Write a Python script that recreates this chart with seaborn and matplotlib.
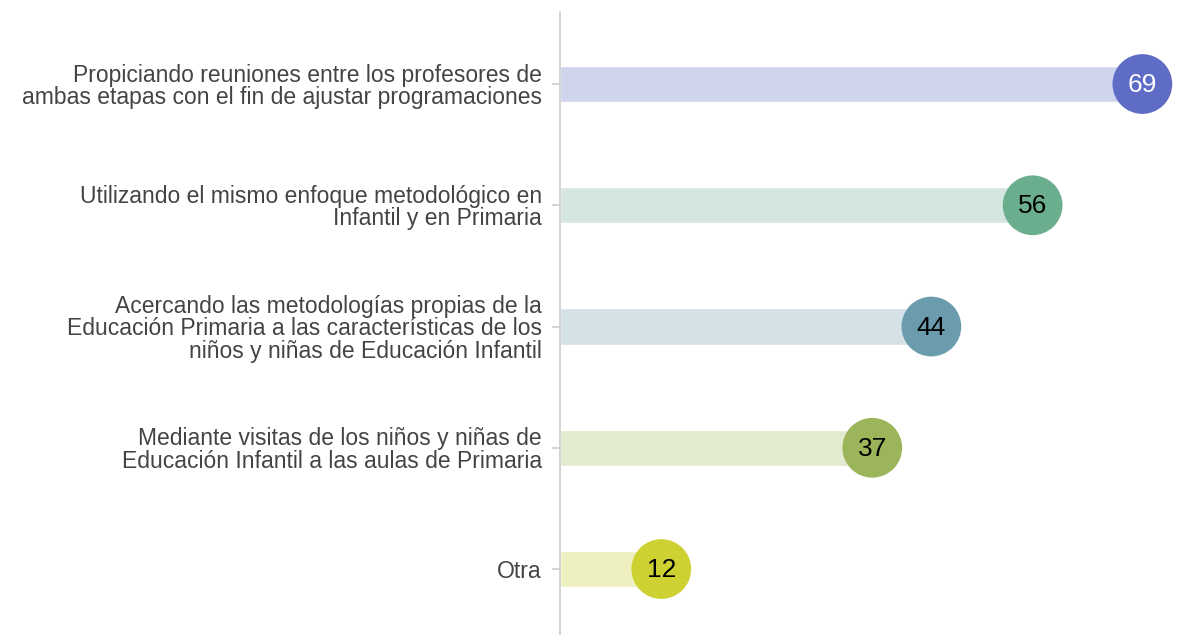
import matplotlib
matplotlib.use("Agg")
import matplotlib.pyplot as plt
import seaborn as sns
import pandas as pd

categories = [
    "Propiciando reuniones entre los profesores de\nambas etapas con el fin de ajustar programaciones",
    "Utilizando el mismo enfoque metodológico en\nInfantil y en Primaria",
    "Acercando las metodologías propias de la\nEducación Primaria a las características de los\nniños y niñas de Educación Infantil",
    "Mediante visitas de los niños y niñas de\nEducación Infantil a las aulas de Primaria",
    "Otra",
]
values = [69, 56, 44, 37, 12]
dot_colors = ["#5f6cc6", "#6aae8e", "#6a9cae", "#9db55a", "#cdd232"]
bar_colors = ["#d0d5ee", "#d5e6e0", "#d4e1e7", "#e2eacf", "#eef0c0"]
label_colors = ["white", "black", "black", "black", "black"]

df = pd.DataFrame({"cat": categories, "val": values})

sns.set_theme(style="white")
plt.rcParams["font.family"] = ["Liberation Sans", "DejaVu Sans"]

fig = plt.figure(figsize=(11.84, 6.35), dpi=100)
ax = fig.add_axes([560 / 1184, 0.0, 1 - 560 / 1184, 1 - 12 / 635])

sns.barplot(data=df, x="val", y="cat", hue="cat", palette=bar_colors,
            orient="h", width=0.3, legend=False, ax=ax, saturation=1)
sns.scatterplot(data=df, x="val", y="cat", hue="cat", palette=dot_colors,
                s=1850, linewidth=0, legend=False, ax=ax, zorder=3)

for i, (v, c) in enumerate(zip(values, label_colors)):
    ax.text(v, i + 0.01, str(v), ha="center", va="center", fontsize=19,
            color=c, zorder=4)

ax.set_xlim(0, (1184 - 560) / 8.44)
ax.set_ylim(4.544, -0.594)
ax.set_xlabel("")
ax.set_ylabel("")
ax.set_xticks([])
for s in ["top", "right", "bottom"]:
    ax.spines[s].set_visible(False)
ax.spines["left"].set_color("#cccccc")
ax.spines["left"].set_linewidth(1.2)
ax.tick_params(axis="y", length=6, width=1.2, color="#cccccc", pad=7,
               labelsize=16.5, labelcolor="#444444", left=True)
for lab in ax.get_yticklabels():
    lab.set_horizontalalignment("right")
    lab.set_multialignment("right")
    lab.set_linespacing(0.98)

fig.savefig("out.png", dpi=100)
